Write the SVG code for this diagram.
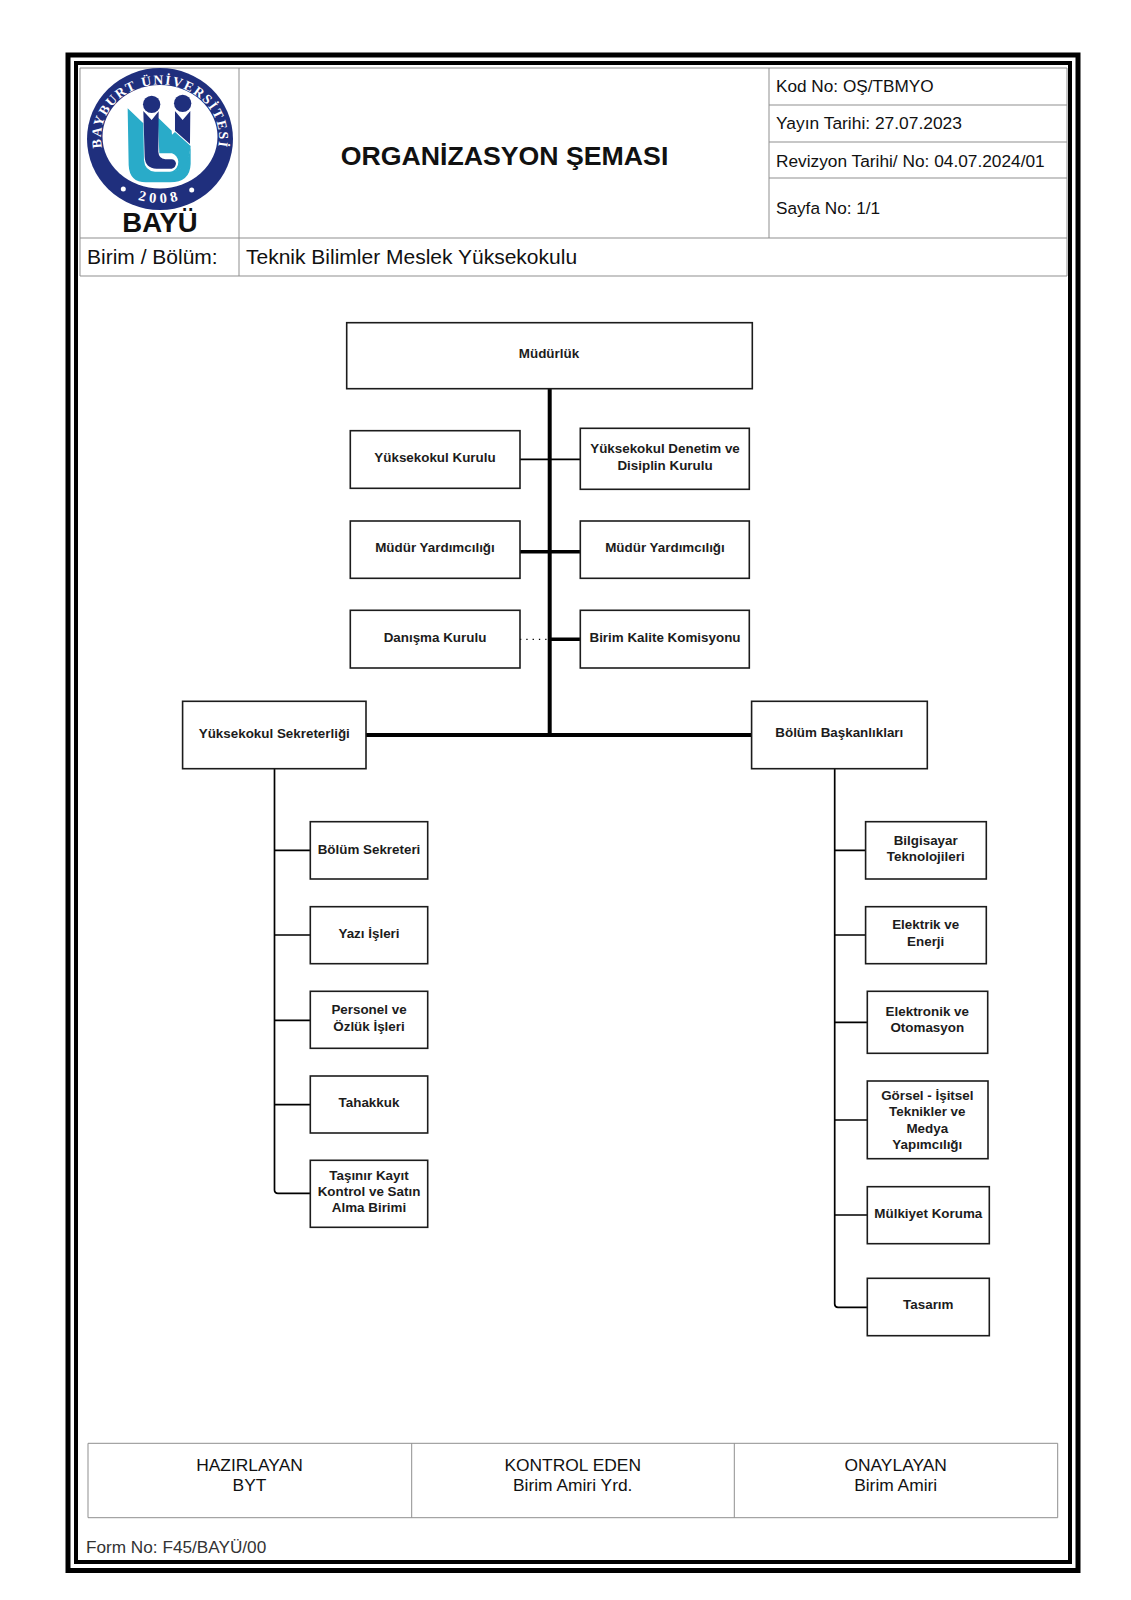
<svg xmlns="http://www.w3.org/2000/svg" width="1131" height="1600" viewBox="0 0 1131 1600">
<style>
text{font-family:"Liberation Sans",Arial,sans-serif;fill:#111}
.n rect{fill:#fff;stroke:#1c1c1c;stroke-width:1.6}
.n text{font-weight:700;font-size:13.4px;text-anchor:middle;fill:#1c1c1c}
.t{fill:none;stroke:#8f8f8f;stroke-width:1}
.h{font-size:17.2px}
.f{font-size:17.4px;text-anchor:middle}
.c{fill:none;stroke:#000;stroke-linejoin:round}
.w1{stroke-width:1.7}
.w2{stroke-width:3.6}
.w3{stroke-width:4}
.r{font-family:"Liberation Serif",serif;fill:#fff;font-weight:700;text-anchor:middle}
</style>
<defs>
<path id="ringTop" d="M114.800,171.600 A59,53 0 1 1 205.200,171.600"/>
<path id="ringBot" d="M92,137.500 A68,65.500 0 0 0 228,137.500"/>
</defs>
<rect width="1131" height="1600" fill="#fff"/>
<g id="frame" fill="none" stroke="#000">
<rect x="68" y="55" width="1010" height="1515.500" stroke-width="5"/>
<rect x="76" y="63" width="994" height="1499" stroke-width="4"/>
</g>
<g id="header">
<path class="t" d="M80,68H1067V276H80ZM239,68V276M769,68V238M80,238H1067M769,105H1067M769,142H1067M769,178H1067"/>
<text class="h" x="776" y="92">Kod No: OŞ/TBMYO</text>
<text class="h" x="776" y="129" style="font-size:17.4px">Yayın Tarihi: 27.07.2023</text>
<text class="h" x="776" y="166.500" style="font-size:17.3px">Revizyon Tarihi/ No: 04.07.2024/01</text>
<text class="h" x="776" y="214">Sayfa No: 1/1</text>
<text x="504.500" y="165" font-size="26.700" font-weight="700" text-anchor="middle">ORGANİZASYON ŞEMASI</text>
<text x="87" y="264" font-size="21">Birim / Bölüm:</text>
<text x="246" y="264" font-size="21">Teknik Bilimler Meslek Yüksekokulu</text>
</g>
<g id="logo">
<ellipse cx="160" cy="139" rx="73" ry="71" fill="#1f2f7d"/>
<ellipse cx="160" cy="136.700" rx="57.500" ry="51.700" fill="#fff"/>
<text class="r" font-size="13.500" style="letter-spacing:1.6px"><textPath href="#ringTop" startOffset="50%">BAYBURT ÜNİVERSİTESİ</textPath></text>
<text class="r" font-size="14.500" style="letter-spacing:4px"><textPath href="#ringBot" startOffset="50%">2008</textPath></text>
<circle cx="123.300" cy="189" r="2.500" fill="#fff"/>
<circle cx="191.700" cy="190" r="2.500" fill="#fff"/>
<g transform="translate(60,40) scale(.3333)">
<circle cx="275" cy="193" r="26" fill="#1f2f7d"/>
<circle cx="368" cy="190" r="26" fill="#1f2f7d"/>
<path fill="#29abc9" d="M203,205L250,250L252,360Q254,392 285,395H330Q375,392 388,340L392,320V372Q390,427 330,427H258Q208,427 206,375Z"/>
<path fill="#29abc9" d="M293,232L335,272L336,284L345,276L392,318L388,345Q378,390 335,395Q355,385 355,365Q352,345 336,340L298,340Z"/>
<path fill="#1f2f7d" d="M250,213L275,240L296,214L295,335Q296,355 316,358H335Q345,358 348,370Q347,384 335,386H290Q255,384 254,350Z"/>
<path fill="#1f2f7d" d="M345,213L368,240L391,213L390,312L345,272Z"/>
</g>
<text x="160" y="232" font-size="27.500" font-weight="700" text-anchor="middle">BAYÜ</text>
</g>
<g id="connectors">
<path class="c w3" d="M549.700,388V735M366,735H751"/>
<path class="c w1" d="M520,459.300H580"/>
<path class="c w2" d="M520,551.700H580M549.700,639.300H580"/>
<path class="c" stroke-width="1.300" stroke-dasharray="1.300 5" d="M520,639.300H549"/>
<path class="c w1" d="M274.500,769V1190Q274.500,1193.300 278,1193.300H310M274.500,850.300H310M274.500,935H310M274.500,1020.300H310M274.500,1104.700H310"/>
<path class="c w1" d="M834.700,769V1304Q834.700,1307.300 838,1307.300H867M834.700,850.300H865M834.700,935H865M834.700,1022.300H867M834.700,1120H867M834.700,1215H867"/>
</g>
<g id="n-mudurluk" class="n"><rect x="346.700" y="322.700" width="405.600" height="66"/><text x="549" y="358">Müdürlük</text></g>
<g id="n-kurul" class="n"><rect x="350.300" y="430.700" width="169.700" height="57.600"/><text x="435" y="462">Yüksekokul Kurulu</text></g>
<g id="n-denetim" class="n"><rect x="580.300" y="428.300" width="169" height="61"/><text x="665" y="453">Yüksekokul Denetim ve</text><text x="665" y="469.700">Disiplin Kurulu</text></g>
<g id="n-yard1" class="n"><rect x="350.300" y="521" width="169.700" height="57.300"/><text x="435" y="552.300">Müdür Yardımcılığı</text></g>
<g id="n-yard2" class="n"><rect x="580.300" y="521" width="169" height="57.300"/><text x="665" y="552.300">Müdür Yardımcılığı</text></g>
<g id="n-danisma" class="n"><rect x="350.300" y="610.300" width="169.700" height="57.700"/><text x="435" y="642.300">Danışma Kurulu</text></g>
<g id="n-kalite" class="n"><rect x="580.300" y="610.300" width="169" height="57.700"/><text x="665" y="642.300">Birim Kalite Komisyonu</text></g>
<g id="n-sekreterlik" class="n"><rect x="182.600" y="701.300" width="183.400" height="67.400"/><text x="274.300" y="737.500">Yüksekokul Sekreterliği</text></g>
<g id="n-baskanlik" class="n"><rect x="751.600" y="701.300" width="175.700" height="67.400"/><text x="839.300" y="737.200">Bölüm Başkanlıkları</text></g>
<g id="n-bolumsek" class="n"><rect x="310.300" y="821.700" width="117.400" height="57.300"/><text x="369" y="853.500">Bölüm Sekreteri</text></g>
<g id="n-yazi" class="n"><rect x="310.300" y="906.700" width="117.400" height="57"/><text x="369" y="938">Yazı İşleri</text></g>
<g id="n-personel" class="n"><rect x="310.300" y="991.300" width="117.400" height="57"/><text x="369" y="1014.300">Personel ve</text><text x="369" y="1030.500">Özlük İşleri</text></g>
<g id="n-tahakkuk" class="n"><rect x="310.300" y="1076" width="117.400" height="57"/><text x="369" y="1107.300">Tahakkuk</text></g>
<g id="n-tasinir" class="n"><rect x="310.300" y="1160.300" width="117.400" height="67"/><text x="369" y="1180">Taşınır Kayıt</text><text x="369" y="1196.300">Kontrol ve Satın</text><text x="369" y="1212.300">Alma Birimi</text></g>
<g id="n-bilgisayar" class="n"><rect x="865.600" y="821.700" width="120.700" height="57.300"/><text x="925.700" y="844.700">Bilgisayar</text><text x="925.700" y="861.300">Teknolojileri</text></g>
<g id="n-elektrik" class="n"><rect x="865.600" y="906.700" width="120.700" height="57"/><text x="925.700" y="929">Elektrik ve</text><text x="925.700" y="945.700">Enerji</text></g>
<g id="n-elektronik" class="n"><rect x="867.300" y="991.300" width="120.400" height="62"/><text x="927.300" y="1016">Elektronik ve</text><text x="927.300" y="1032.300">Otomasyon</text></g>
<g id="n-gorsel" class="n"><rect x="867.300" y="1081" width="120.700" height="77.700"/><text x="927.300" y="1100">Görsel - İşitsel</text><text x="927.300" y="1116">Teknikler ve</text><text x="927.300" y="1132.500">Medya</text><text x="927.300" y="1148.700">Yapımcılığı</text></g>
<g id="n-mulkiyet" class="n"><rect x="867.300" y="1186.700" width="122" height="57"/><text x="928.300" y="1217.700">Mülkiyet Koruma</text></g>
<g id="n-tasarim" class="n"><rect x="867.300" y="1278.300" width="122" height="57.400"/><text x="928.300" y="1309">Tasarım</text></g>
<g id="footer">
<path class="t" d="M88,1443.300H1057.700V1517.700H88ZM411.700,1443.300V1517.700M734.300,1443.300V1517.700"/>
<text class="f" x="249.500" y="1470.700">HAZIRLAYAN</text><text class="f" x="249.500" y="1490.700">BYT</text>
<text class="f" x="572.700" y="1470.700">KONTROL EDEN</text><text class="f" x="572.700" y="1490.700">Birim Amiri Yrd.</text>
<text class="f" x="895.700" y="1470.700">ONAYLAYAN</text><text class="f" x="895.700" y="1490.700">Birim Amiri</text>
<text class="h" x="86" y="1553.300" style="fill:#333">Form No: F45/BAYÜ/00</text>
</g>
</svg>
